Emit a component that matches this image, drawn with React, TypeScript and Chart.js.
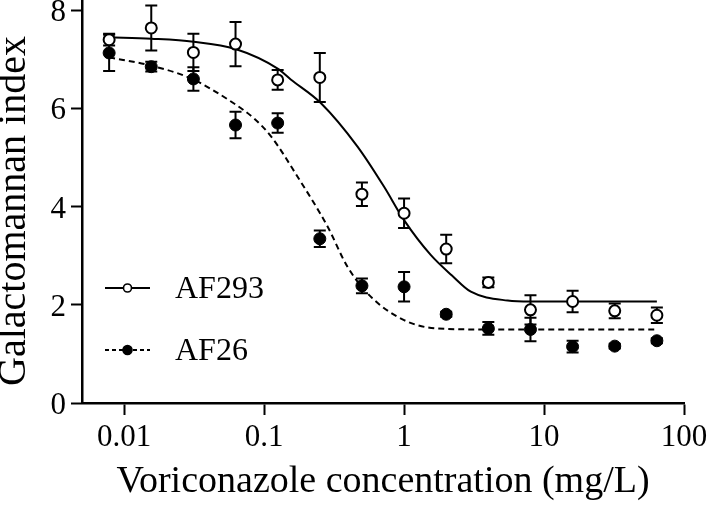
import React, { useEffect, useRef } from "react";
import { Chart, registerables } from "chart.js";

Chart.register(...registerables);

// ---- data ----
const concentrations = [0.0078125, 0.015625, 0.03125, 0.0625, 0.125, 0.25, 0.5, 1, 2, 4, 8, 16, 32, 64];
const af293Mean = [7.41, 7.65, 7.15, 7.32, 6.59, 6.64, 4.26, 3.87, 3.14, 2.46, 1.9, 2.07, 1.88, 1.79];
const af293Sem = [0.12, 0.46, 0.38, 0.45, 0.2, 0.5, 0.24, 0.3, 0.29, 0.1, 0.3, 0.22, 0.15, 0.16];
const af26Mean = [7.14, 6.86, 6.61, 5.67, 5.71, 3.35, 2.39, 2.37, 1.81, 1.52, 1.5, 1.15, 1.16, 1.27];
const af26Sem = [0.37, 0.1, 0.24, 0.27, 0.2, 0.17, 0.15, 0.3, 0.05, 0.13, 0.24, 0.12, 0.05, 0.05];

// fitted curves
const fit293X = [0.0078125, 0.0156, 0.03125, 0.0625, 0.125, 0.155, 0.254, 0.465, 0.72, 1.0, 1.55, 2.2, 3.0, 5.5, 8, 64];
const fit293Y = [7.46, 7.43, 7.37, 7.22, 6.82, 6.6, 6.12, 5.23, 4.41, 3.73, 3.02, 2.6, 2.27, 2.09, 2.07, 2.07];
const fit26X = [0.0078125, 0.0156, 0.03, 0.058, 0.085, 0.112, 0.173, 0.284, 0.394, 0.578, 1.0, 1.73, 4, 64];
const fit26Y = [7.05, 6.88, 6.62, 6.15, 5.8, 5.44, 4.62, 3.6, 2.78, 2.17, 1.69, 1.52, 1.5, 1.5];

const seriesLabels = ["AF293", "AF26"];
const xTicks = [0.01, 0.1, 1, 10, 100];
const xTickLabels = ["0.01", "0.1", "1", "10", "100"];
const yTicks = [0, 2, 4, 6, 8];
const yTickLabels = ["0", "2", "4", "6", "8"];
const xTitle = "Voriconazole concentration (mg/L)";
const yTitle = "Galactomannan index";

const FONT = "'Liberation Serif', 'Times New Roman', serif";

const errorBarPlugin = {
  id: "errorBars",
  beforeDatasetsDraw(chart: any) {
    const ctx = chart.ctx;
    const xs = chart.scales.x;
    const ys = chart.scales.y;
    chart.data.datasets.forEach((ds: any) => {
      if (!ds.errors) return;
      ctx.save();
      ctx.strokeStyle = "#000";
      ctx.lineWidth = 2;
      ds.data.forEach((p: any, i: number) => {
        const e = ds.errors[i];
        const px = xs.getPixelForValue(p.x);
        const top = ys.getPixelForValue(p.y + e);
        const bot = ys.getPixelForValue(p.y - e);
        ctx.beginPath();
        ctx.moveTo(px, top);
        ctx.lineTo(px, bot);
        ctx.moveTo(px - 6, top);
        ctx.lineTo(px + 6, top);
        ctx.moveTo(px - 6, bot);
        ctx.lineTo(px + 6, bot);
        ctx.stroke();
      });
      ctx.restore();
    });
  },
};

const legendPlugin = {
  id: "customLegend",
  afterDraw(chart: any) {
    const ctx = chart.ctx;
    const a = chart.chartArea;
    const rows = [
      { label: seriesLabels[0], dash: [], fill: "#fff", r: 4, y: 288 },
      { label: seriesLabels[1], dash: [4, 3], fill: "#000", r: 4.5, y: 350 },
    ];
    ctx.save();
    rows.forEach((row) => {
      const x0 = a.left + 23;
      const x1 = a.left + 68;
      ctx.strokeStyle = "#000";
      ctx.lineWidth = 2;
      ctx.setLineDash(row.dash);
      ctx.beginPath();
      ctx.moveTo(x0, row.y);
      ctx.lineTo(x1, row.y);
      ctx.stroke();
      ctx.setLineDash([]);
      ctx.beginPath();
      ctx.arc((x0 + x1) / 2, row.y, row.r, 0, Math.PI * 2);
      ctx.fillStyle = row.fill;
      ctx.fill();
      ctx.lineWidth = 1.6;
      ctx.stroke();
      ctx.fillStyle = "#000";
      ctx.font = `32px ${FONT}`;
      ctx.textBaseline = "alphabetic";
      ctx.textAlign = "left";
      ctx.fillText(row.label, a.left + 93, row.y + 10);
    });
    // y-axis title
    ctx.translate(14, 211);
    ctx.rotate(-Math.PI / 2);
    ctx.font = `40px ${FONT}`;
    ctx.textAlign = "center";
    ctx.textBaseline = "middle";
    ctx.fillStyle = "#000";
    ctx.fillText(yTitle, 0, 0);
    ctx.restore();
  },
};

export default function App() {
  const ref = useRef<HTMLCanvasElement | null>(null);

  useEffect(() => {
    if (!ref.current) return;
    const pts = (xs: number[], ys: number[]) => xs.map((x, i) => ({ x, y: ys[i] }));
    const chart = new Chart(ref.current, {
      type: "scatter",
      data: {
        datasets: [
          {
            label: seriesLabels[0],
            data: pts(concentrations, af293Mean),
            errors: af293Sem,
            pointRadius: 5.5,
            pointBackgroundColor: "#fff",
            pointBorderColor: "#000",
            pointBorderWidth: 2,
            showLine: false,
          } as any,
          {
            label: seriesLabels[1],
            data: pts(concentrations, af26Mean),
            errors: af26Sem,
            pointRadius: 6,
            pointBackgroundColor: "#000",
            pointBorderColor: "#000",
            pointBorderWidth: 1,
            showLine: false,
          } as any,
          {
            label: seriesLabels[0] + " fit",
            data: pts(fit293X, fit293Y),
            showLine: true,
            pointRadius: 0,
            borderColor: "#000",
            borderWidth: 2,
            cubicInterpolationMode: "monotone",
          },
          {
            label: seriesLabels[1] + " fit",
            data: pts(fit26X, fit26Y),
            showLine: true,
            pointRadius: 0,
            borderColor: "#000",
            borderWidth: 2,
            borderDash: [6, 4],
            cubicInterpolationMode: "monotone",
          },
        ],
      },
      options: {
        animation: false,
        responsive: true,
        maintainAspectRatio: false,
        layout: { autoPadding: false, padding: { top: 0, right: 25, left: 0, bottom: 0 } },
        plugins: {
          legend: { display: false },
          tooltip: { enabled: false },
        },
        scales: {
          x: {
            type: "logarithmic",
            position: "bottom",
            min: 0.005,
            max: 100,
            afterBuildTicks: (s: any) => {
              s.ticks = xTicks.map((v) => ({ value: v }));
            },
            afterFit: (s: any) => {
              s.height = 102;
              s.paddingLeft = 0;
              s.paddingRight = 0;
            },
            ticks: {
              autoSkip: false,
              maxRotation: 0,
              padding: 4,
              color: "#000",
              font: { family: FONT, size: 31 },
              callback: (_v: any, i: number) => xTickLabels[i],
            },
            grid: {
              display: true,
              drawOnChartArea: false,
              drawTicks: true,
              tickLength: 12,
              tickWidth: 2,
              tickColor: "#000",
            },
            border: { display: true, color: "#000", width: 2.5 },
            title: {
              display: true,
              text: xTitle,
              color: "#000",
              font: { family: FONT, size: 38 },
              padding: { top: 0, bottom: 0 },
            },
          },
          y: {
            type: "linear",
            min: 0,
            max: 8.22,
            afterBuildTicks: (s: any) => {
              s.ticks = yTicks.map((v) => ({ value: v }));
            },
            afterFit: (s: any) => {
              s.width = 82;
              s.paddingTop = 0;
              s.paddingBottom = 0;
            },
            ticks: {
              autoSkip: false,
              padding: 5,
              labelOffset: 2.5,
              color: "#000",
              font: { family: FONT, size: 31 },
              callback: (_v: any, i: number) => yTickLabels[i],
            },
            grid: {
              display: true,
              drawOnChartArea: false,
              drawTicks: true,
              tickLength: 11,
              tickWidth: 2,
              tickColor: "#000",
            },
            border: { display: true, color: "#000", width: 2.5 },
            title: { display: false, text: yTitle },
          },
        },
      },
      plugins: [errorBarPlugin, legendPlugin],
    } as any);
    return () => chart.destroy();
  }, []);

  return (
    <div style={{ position: "absolute", left: 0, top: 0, width: 709, height: 505, background: "#fff" }}>
      <canvas ref={ref} />
    </div>
  );
}
